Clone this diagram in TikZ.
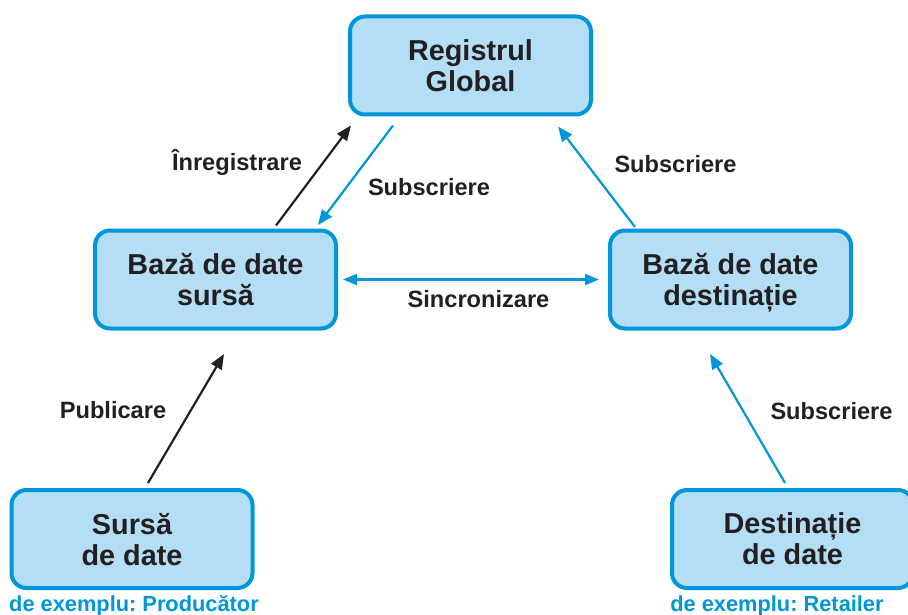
\documentclass[tikz,border=0pt]{standalone}
\usepackage{fontspec}
\setmainfont{Liberation Sans}
\usetikzlibrary{arrows.meta}
\frenchspacing

\definecolor{boxfill}{RGB}{179,222,245}
\definecolor{boxline}{RGB}{0,150,218}
\definecolor{ink}{RGB}{35,31,32}

\tikzset{
  entity/.style={draw=boxline, fill=boxfill, line width=4pt, rounded corners=15pt,
    minimum width=241pt, minimum height=98pt, inner sep=0pt, align=center,
    text=ink, font=\fontsize{28.8}{31}\selectfont\bfseries, text depth=0pt},
  tag/.style={anchor=base, text=ink, font=\fontsize{23.6}{25}\selectfont\bfseries, inner sep=0pt},
  note/.style={anchor=base, text=boxline, font=\fontsize{21.8}{24}\selectfont\bfseries, inner sep=0pt},
  flowk/.style={draw=ink, line width=2.2pt, -{Triangle[length=15pt,width=12pt]}},
  flowb/.style={draw=boxline, line width=2.2pt, -{Triangle[length=15pt,width=12pt]}},
  syncb/.style={draw=boxline, line width=2.2pt, {Triangle[length=14pt,width=11pt]}-{Triangle[length=14pt,width=11pt]}}
}

\begin{document}
\begin{tikzpicture}[x=1pt, y=-1pt]
  \useasboundingbox (0,0) rectangle (908,615);

  % participants
  \node[entity] (rg) at (470.5,65.5) {Registrul\\Global};
  \node[entity] (bs) at (215.5,279.5) {Bază de date\\sursă};
  \node[entity] (bd) at (730.5,279.5) {Bază de date\\destinație};
  \node[entity] (sd) at (132,539) {Sursă\\de date};
  \node[entity] (dd) at (792.5,539) {Destinație\\de date};

  % example captions under the end nodes
  \node[note] (sdnote) at (134,611) {de exemplu: Producător};
  \node[note] (ddnote) at (777,611) {de exemplu: Retailer};

  % flows between the registry and the databases
  \draw[flowk] ([xshift=60.5pt,yshift=3pt]bs.north) -- ([xshift=-119.5pt,yshift=-9pt]rg.south);
  \draw[flowb] ([xshift=-77.5pt,yshift=-9pt]rg.south) -- ([xshift=102.5pt,yshift=3.5pt]bs.north);
  \draw[flowb] ([xshift=-95.5pt,yshift=1.5pt]bd.north) -- ([xshift=87.5pt,yshift=-10pt]rg.south);
  \draw[syncb] ([xshift=5pt]bs.east) -- ([xshift=-9pt]bd.west);

  % flows from the data ends
  \draw[flowk] ([xshift=16pt,yshift=5pt]sd.north) -- ([xshift=8.5pt,yshift=-23.5pt]bs.south);
  \draw[flowb] ([xshift=-7.5pt,yshift=5pt]dd.north) -- ([xshift=-20.5pt,yshift=-23.5pt]bd.south);

  % flow labels
  \node[tag] (lreg) at (237,171) {Înregistrare};
  \node[tag] (lsub1) at (429,196) {Subscriere};
  \node[tag] (lsub2) at (675.5,173) {Subscriere};
  \node[tag] (lsync) at (478.5,307) {Sincronizare};
  \node[tag] (lpub) at (113,418) {Publicare};
  \node[tag] (lsub3) at (831.5,419) {Subscriere};
\end{tikzpicture}
\end{document}
